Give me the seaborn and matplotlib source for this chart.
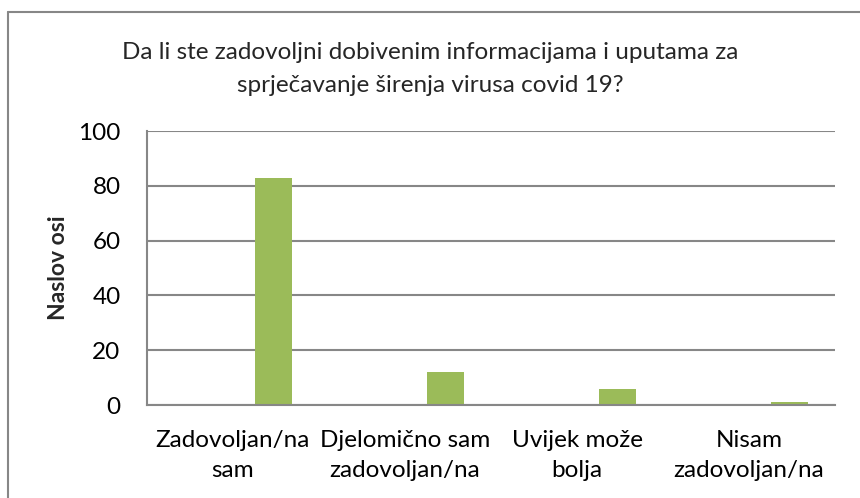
import matplotlib
matplotlib.use("Agg")
import matplotlib.pyplot as plt
import pandas as pd
import seaborn as sns
from matplotlib.lines import Line2D

# Data
categories = [
    "Zadovoljan/na\nsam",
    "Djelomično sam\nzadovoljan/na",
    "Uvijek može\nbolja",
    "Nisam\nzadovoljan/na",
]
values = [83, 12, 6, 1]
title = "Da li ste zadovoljni dobivenim informacijama i uputama za\nsprječavanje širenja virusa covid 19?"
y_label = "Naslov osi"
y_ticks = [0, 20, 40, 60, 80, 100]

sns.set_theme(style="white")
plt.rcParams["font.family"] = ["Lato", "DejaVu Sans"]

df = pd.DataFrame({"category": categories, "value": values})

fig = plt.figure(figsize=(8.6, 4.98), dpi=100)
ax = fig.add_axes([147 / 860, 1 - 405 / 498, (835 - 147) / 860, (405 - 131) / 498])

sns.barplot(data=df, x="category", y="value", color="#9BBB59", width=0.215,
            saturation=1, linewidth=0, ax=ax)

# Excel puts this series right of the category centre
for p in ax.patches:
    p.set_x(p.get_x() + 0.237)

ax.set_xlim(-0.5, len(categories) - 0.5)
ax.set_ylim(0, 100)
ax.set_yticks(y_ticks)
ax.yaxis.grid(True, color="#878787", linewidth=1.5)
ax.set_axisbelow(True)

for side in ["top", "right"]:
    ax.spines[side].set_visible(False)
for side in ["left", "bottom"]:
    ax.spines[side].set_color("#878787")
    ax.spines[side].set_linewidth(1.5)

ax.tick_params(axis="both", length=0, labelsize=17.5, colors="black")
ax.tick_params(axis="y", pad=19)
ax.tick_params(axis="x", pad=18)
for lbl in ax.get_xticklabels():
    lbl.set_linespacing(1.5)
ax.set_xlabel("")
ax.set_ylabel(y_label, fontsize=16.5, fontweight="bold", labelpad=7)

fig.text(0.5, 1 - 69 / 498, title, ha="center", va="center", fontsize=17.5,
         linespacing=1.65)

# chart frame (only top and left edges are visible in the crop)
fig.add_artist(Line2D([8 / 860, 1], [1 - 12 / 498, 1 - 12 / 498],
                      transform=fig.transFigure, color="#878787", linewidth=1.5))
fig.add_artist(Line2D([8 / 860, 8 / 860], [0, 1 - 12 / 498],
                      transform=fig.transFigure, color="#878787", linewidth=1.5))

fig.savefig("out.png", dpi=100)
